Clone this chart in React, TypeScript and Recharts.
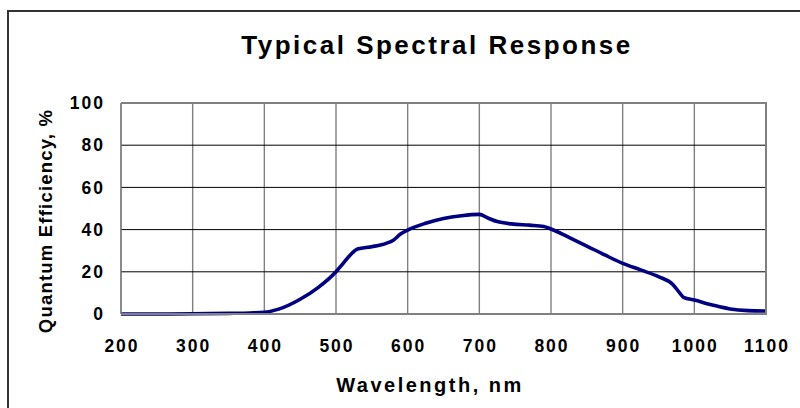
import React from "react";
import {
  LineChart,
  Line,
  XAxis,
  YAxis,
  CartesianGrid,
} from "recharts";

// wavelength in nm
const wavelengths = [
  200, 250, 300, 350, 380, 400, 420, 450, 475, 500, 510, 520, 530, 550, 570,
  580, 590, 600, 625, 650, 675, 700, 712, 725, 745, 770, 790, 800, 825, 850,
  875, 900, 925, 950, 970, 980, 985, 1000, 1025, 1050, 1075, 1100,
];

// quantum efficiency in %
const efficiency = [
  0, 0, 0.1, 0.3, 0.5, 0.8, 2.3, 7, 12.5, 20, 24, 28, 30.8, 31.9, 33.5,
  35, 37.9, 39.8, 43, 45.3, 46.6, 47.2, 45.5, 43.8, 42.7, 42.1, 41.5, 40.3,
  36.3, 32.2, 28, 24, 20.9, 17.7, 14, 9.8, 7.9, 6.6, 4.3, 2.4, 1.6, 1.4,
];

const xTicks = [200, 300, 400, 500, 600, 700, 800, 900, 1000, 1100];
const yTicks = [0, 20, 40, 60, 80, 100];

const data = wavelengths.map((w, i) => ({ w, qe: efficiency[i] }));

const FONT = "Arial, 'Liberation Sans', sans-serif";
const tickStyle = {
  fontSize: 17.5,
  fontWeight: 700,
  fill: "#000",
  fontFamily: FONT,
  letterSpacing: 2,
};

export default function App() {
  return (
    <div
      style={{
        position: "absolute",
        left: 0,
        top: 0,
        width: 800,
        height: 408,
        overflow: "hidden",
        background: "#fff",
      }}
    >
      <div
        style={{
          position: "absolute",
          left: 7,
          top: 10,
          width: 900,
          height: 500,
          border: "2px solid #333",
        }}
      />
      <div style={{ position: "absolute", left: 0, top: 0 }}>
        <LineChart
          width={800}
          height={408}
          data={data}
          margin={{ top: 103, right: 34, bottom: 0, left: 0 }}
        >
          <CartesianGrid horizontal={false} stroke="#808080" strokeWidth={1.4} />
          <CartesianGrid vertical={false} stroke="#000" strokeWidth={1} />
          <XAxis
            dataKey="w"
            type="number"
            domain={[200, 1100]}
            ticks={xTicks}
            height={94}
            tickSize={0}
            tickMargin={26}
            axisLine={{ stroke: "#808080", strokeWidth: 2 }}
            tickLine={false}
            tick={{ ...tickStyle, dx: 1 }}
            interval={0}
          />
          <YAxis
            type="number"
            domain={[0, 100]}
            ticks={yTicks}
            width={121}
            tickSize={0}
            tickMargin={16}
            axisLine={{ stroke: "#808080", strokeWidth: 1.4 }}
            tickLine={false}
            tick={tickStyle}
            interval={0}
          />
          <Line
            type="monotone"
            dataKey="qe"
            stroke="#000080"
            strokeWidth={3.6}
            dot={false}
            isAnimationActive={false}
          />
        </LineChart>
      </div>
      <svg
        width={800}
        height={408}
        style={{ position: "absolute", left: 0, top: 0, pointerEvents: "none" }}
      >
        <line x1={766} y1={103} x2={766} y2={315} stroke="#808080" strokeWidth={2} />
        <line x1={121} y1={103} x2={767} y2={103} stroke="#808080" strokeWidth={2} />
        <text
          x={437}
          y={54}
          textAnchor="middle"
          fontFamily={FONT}
          fontWeight={700}
          fontSize={26}
          letterSpacing={2.5}
        >
          Typical Spectral Response
        </text>
        <text
          x={430}
          y={392}
          textAnchor="middle"
          fontFamily={FONT}
          fontWeight={700}
          fontSize={20}
          letterSpacing={2.5}
        >
          Wavelength, nm
        </text>
        <text
          x={0}
          y={0}
          transform="translate(52,221) rotate(-90)"
          textAnchor="middle"
          fontFamily={FONT}
          fontWeight={700}
          fontSize={18.5}
          letterSpacing={1.2}
        >
          Quantum Efficiency, %
        </text>
      </svg>
    </div>
  );
}
